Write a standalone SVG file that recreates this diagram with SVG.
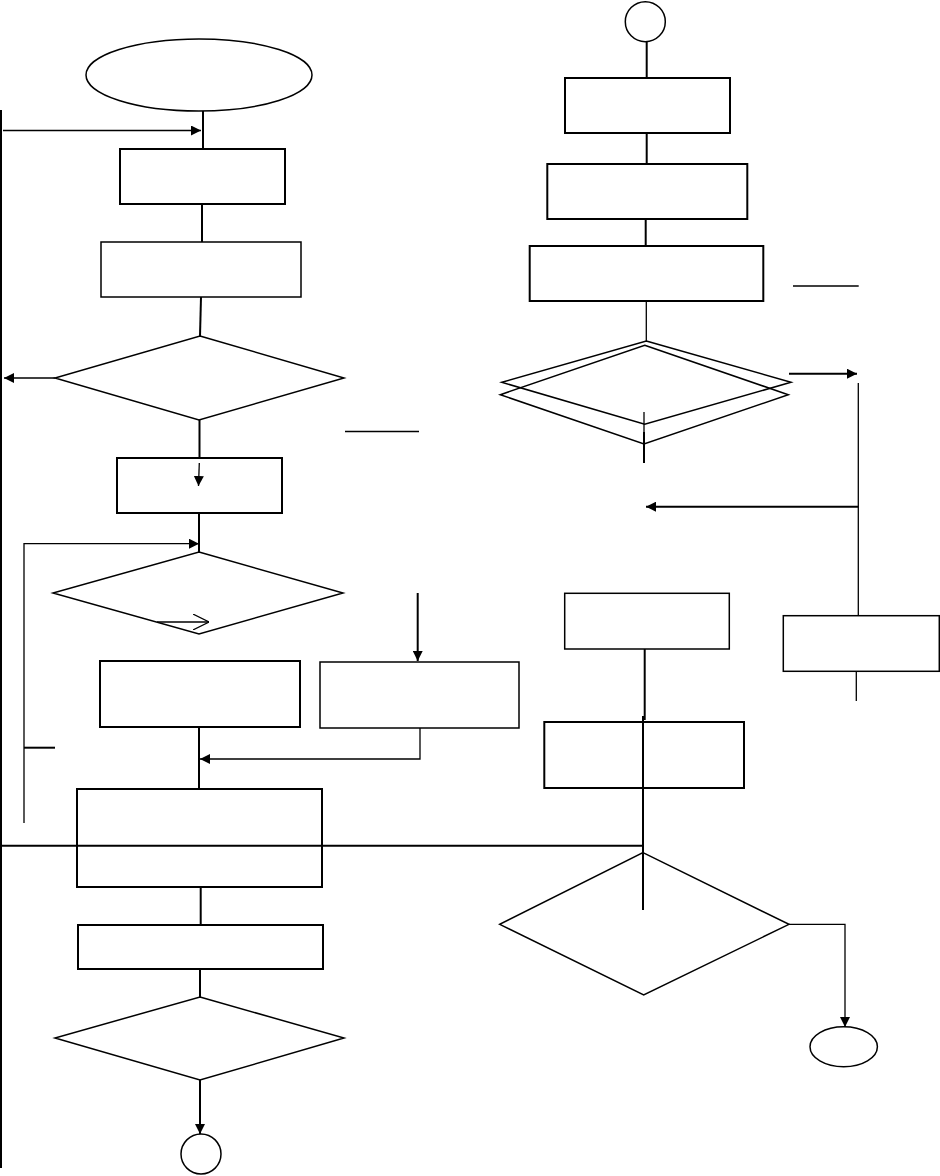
<svg xmlns="http://www.w3.org/2000/svg" width="940" height="1176" viewBox="0 0 940 1176">
<defs>
<marker id="ah" viewBox="0 0 10 10" refX="10" refY="5" markerWidth="10" markerHeight="10" markerUnits="userSpaceOnUse" orient="auto"><path d="M0,0 L10,5 L0,10 z" fill="#000"/></marker>
<marker id="oh" viewBox="0 0 16 16" refX="16" refY="8" markerWidth="16" markerHeight="16" markerUnits="userSpaceOnUse" orient="auto"><path d="M0,0 L16,8 L0,16" fill="none" stroke="#000" stroke-width="1.2"/></marker>
</defs>
<style>
.n{fill:none;stroke:#000;stroke-width:2}
.t{fill:none;stroke:#000;stroke-width:1.5}
.c{fill:none;stroke:#000;stroke-width:2}
.c1{fill:none;stroke:#000;stroke-width:1.3}
</style>
<rect width="940" height="1176" fill="#fff"/>
<g id="connectors">
<line class="c" x1="1" y1="110" x2="1" y2="1168"/>
<line class="c1" x1="3" y1="130.5" x2="201" y2="130.5" marker-end="url(#ah)"/>
<line class="c" x1="203" y1="111" x2="203" y2="149"/>
<line class="c" x1="202" y1="204" x2="202" y2="242"/>
<line class="c" x1="201" y1="297" x2="200" y2="336"/>
<line class="c1" x1="55" y1="378" x2="4" y2="378" marker-end="url(#ah)"/>
<line class="c1" x1="345" y1="431.5" x2="419" y2="431.5"/>
<line class="c" x1="199.5" y1="420" x2="199.5" y2="458"/>
<line class="c" x1="199" y1="513" x2="199" y2="552"/>
<polyline class="c1" points="24,823 24,543.7 199,543.7" marker-end="url(#ah)"/>
<line class="c" x1="417.7" y1="593" x2="417.7" y2="661" marker-end="url(#ah)"/>
<line class="c" x1="199" y1="727" x2="199" y2="789"/>
<polyline class="c1" points="420,728 420,759 200,759" marker-end="url(#ah)"/>
<line class="c" x1="24" y1="747.7" x2="55" y2="747.7"/>
<line class="c" x1="0" y1="845.7" x2="643" y2="845.7"/>
<line class="c" x1="200.7" y1="887" x2="200.7" y2="925"/>
<line class="c" x1="200" y1="969" x2="200" y2="997"/>
<line class="c" x1="200" y1="1080" x2="200" y2="1134" marker-end="url(#ah)"/>
<line class="c" x1="646.7" y1="42" x2="646.7" y2="78"/>
<line class="c" x1="646.7" y1="133" x2="646.7" y2="164"/>
<line class="c" x1="645.7" y1="219" x2="645.7" y2="246"/>
<line class="c1" x1="793" y1="286" x2="858.7" y2="286"/>
<line class="c1" x1="646.3" y1="301" x2="646.3" y2="341"/>
<line class="c1" x1="644" y1="412" x2="644" y2="432"/>
<line class="c" x1="644" y1="432" x2="644" y2="463"/>
<line class="c" x1="789" y1="373.7" x2="857" y2="373.7" marker-end="url(#ah)"/>
<line class="c1" x1="858.3" y1="383" x2="858.3" y2="616"/>
<line class="c" x1="858.3" y1="506.7" x2="646" y2="506.7" marker-end="url(#ah)"/>
<line class="c1" x1="856.3" y1="671" x2="856.3" y2="701"/>
<line class="c" x1="644.7" y1="649" x2="644.7" y2="720"/>
<line class="c" x1="643" y1="716" x2="643" y2="910"/>
<polyline class="c1" points="789,924.3 845,924.3 845,1027" marker-end="url(#ah)"/>
</g>
<g id="start"><ellipse class="t" cx="199" cy="75" rx="113" ry="36"/></g>
<g id="box1"><rect class="n" x="120" y="149" width="165" height="55"/></g>
<g id="box2"><rect class="t" x="101" y="242" width="200" height="55"/></g>
<g id="dec1"><polygon class="t" points="200,336 344,378 199,420 55,378"/></g>
<g id="box3"><rect class="n" x="117" y="458" width="165" height="55"/><line class="c1" x1="199.3" y1="463" x2="198.5" y2="486" marker-end="url(#ah)"/></g>
<g id="dec2"><polygon class="t" points="199,552 343,593 199,634 53,593"/><line class="c1" x1="157" y1="622" x2="209" y2="622" marker-end="url(#oh)"/></g>
<g id="box4"><rect class="n" x="100" y="661" width="200" height="66"/></g>
<g id="box5"><rect class="t" x="320" y="662" width="199" height="66"/></g>
<g id="box6"><rect class="n" x="77" y="789" width="245" height="98"/></g>
<g id="box7"><rect class="n" x="78" y="925" width="245" height="44"/></g>
<g id="dec3"><polygon class="t" points="200,997 344,1038 200,1080 55,1038"/></g>
<g id="conn1"><circle class="t" cx="201" cy="1154" r="20"/></g>
<g id="conn2"><circle class="t" cx="645.3" cy="21.7" r="20"/></g>
<g id="boxA"><rect class="n" x="565" y="78" width="165" height="55"/></g>
<g id="boxB"><rect class="n" x="547.3" y="164" width="200" height="55"/></g>
<g id="boxC"><rect class="n" x="529.7" y="246" width="233.6" height="55"/></g>
<g id="dec4"><polygon class="t" points="646.3,341 791,382.3 644.7,424.3 501.7,382.3"/><polygon class="t" points="644.7,345.3 788.3,394.7 644,444 500.3,394.7"/></g>
<g id="boxD"><rect class="t" x="783.3" y="615.7" width="156" height="55.6"/></g>
<g id="boxE"><rect class="t" x="564.7" y="593.3" width="164.6" height="55.7"/></g>
<g id="boxF"><rect class="n" x="544.3" y="722" width="199.7" height="66"/></g>
<g id="dec5"><polygon class="t" points="643,852.7 789,924.3 643.7,995 499.7,924.3"/></g>
<g id="end"><ellipse class="t" cx="843.7" cy="1046.7" rx="33.7" ry="20"/></g>
</svg>
